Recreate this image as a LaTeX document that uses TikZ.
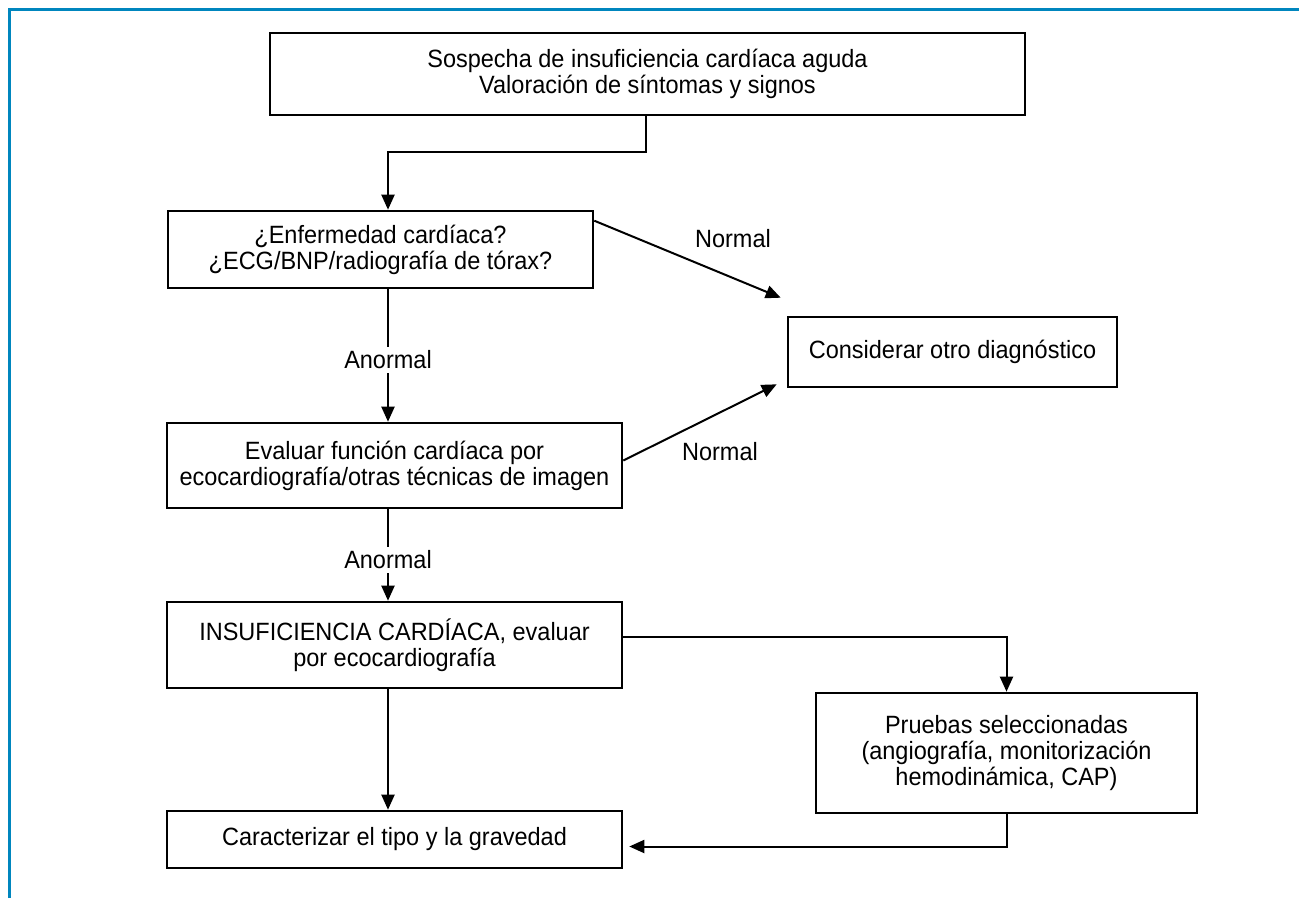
\documentclass[tikz,border=0pt]{standalone}
\usepackage{fontspec}
\setmainfont{Liberation Sans}[FakeStretch=0.94]
\usetikzlibrary{arrows.meta,calc}
\definecolor{framebl}{RGB}{0,134,190}
\begin{document}
\begin{tikzpicture}[x=1pt,y=1pt,
  box/.style={draw=black, line width=2.6pt, align=center, inner sep=0pt,
              font=\fontsize{25}{26}\selectfont},
  lbl/.style={inner sep=4pt, font=\fontsize{25}{26}\selectfont},
  conn/.style={line width=2pt},
  arr/.style={conn, -{Triangle[length=15pt,width=13pt]}}]
\useasboundingbox (0,0) rectangle (1299,-898);

% open blue frame (top and left edges)
\draw[framebl, line width=3pt] (9.5,-898) -- (9.5,-9.5) -- (1299,-9.5);

% column of the vertical flow
\coordinate (spine) at (388,0);

% boxes
\node[box, minimum width=755pt, minimum height=82pt] (top) at (647.5,-74)
  {Sospecha de insuficiencia cardíaca aguda\\Valoración de síntomas y signos};
\node[box, minimum width=425pt, minimum height=77pt] (b2) at (380.5,-249.5)
  {¿Enfermedad cardíaca?\\¿ECG/BNP/radiografía de tórax?};
\node[box, minimum width=455pt, minimum height=85pt] (b3) at (394.5,-465.5)
  {Evaluar función cardíaca por\\ecocardiografía/otras técnicas de imagen};
\node[box, minimum width=455pt, minimum height=86pt] (b4) at (394.5,-645)
  {INSUFICIENCIA CARDÍACA, evaluar\\por ecocardiografía};
\node[box, minimum width=455pt, minimum height=57pt] (b5) at (394.5,-839.5)
  {Caracterizar el tipo y la gravedad};
\node[box, minimum width=329pt, minimum height=70pt] (cons) at (952.5,-352)
  {Considerar otro diagnóstico};
\node[box, minimum width=381pt, minimum height=120pt] (prue) at (1006.5,-753)
  {Pruebas seleccionadas\\(angiografía, monitorización\\hemodinámica, CAP)};

% labels
\node[lbl] (an1) at (388,-360) {Anormal};
\node[lbl] (an2) at (388,-560) {Anormal};
\node[lbl] (no1) at (733,-239) {Normal};
\node[lbl] (no2) at (720,-452) {Normal};

% connectors
\draw[arr] ($(top.south)+(-1.5,0)$) -- ++(0,-36) -| (b2.north -| spine);
\draw[conn] (b2.south -| spine) -- (an1.north);
\draw[arr] (an1.south) -- (b3.north -| spine);
\draw[conn] (b3.south -| spine) -- (an2.north);
\draw[arr] (an2.south) -- (b4.north -| spine);
\draw[arr] (b4.south -| spine) -- (b5.north -| spine);
\draw[arr] ($(b2.north east)+(0,-11)$) -- ($(cons.north west)+(-6,18)$);
\draw[arr] ($(b3.east)+(0,5)$) -- ($(cons.south west)+(-10,4)$);
\draw[arr] ($(b4.east)+(0,8)$) -| (prue.north);
\draw[arr] (prue.south) |- ($(b5.east)+(6,-7)$);
\end{tikzpicture}
\end{document}
